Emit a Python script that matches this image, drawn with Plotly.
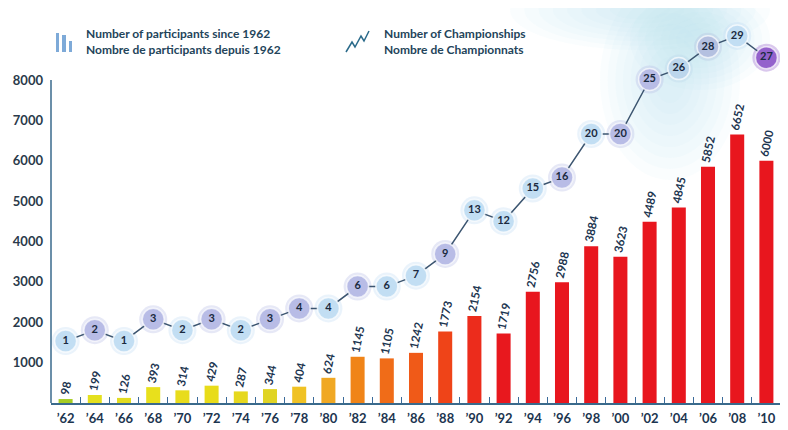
import plotly.graph_objects as go

years = ["’62", "’64", "’66", "’68", "’70", "’72", "’74", "’76", "’78", "’80", "’82", "’84", "’86",
         "’88", "’90", "’92", "’94", "’96", "’98", "’00", "’02", "’04", "’06", "’08", "’10"]
participants = [98, 199, 126, 393, 314, 429, 287, 344, 404, 624, 1145, 1105, 1242,
                1773, 2154, 1719, 2756, 2988, 3884, 3623, 4489, 4845, 5852, 6652, 6000]
championships = [1, 2, 1, 3, 2, 3, 2, 3, 4, 4, 6, 6, 7, 9, 13, 12, 15, 16, 20, 20, 25, 26, 28, 29, 27]
y_ticks = [1000, 2000, 3000, 4000, 5000, 6000, 7000, 8000]

bar_colors = ["#a6cc22", "#e4e01e", "#e2dc20", "#e8e01c", "#e8dc1c", "#e8dc1a", "#e6d81e", "#e0d424",
              "#f0c224", "#f0a824", "#f08418", "#f06c18", "#f05a18", "#ef4418", "#ec2c1c", "#e8181e",
              "#e8161e", "#e8161e", "#e8161e", "#e8161e", "#e8161e", "#e8161e", "#e8161e", "#e8161e", "#e8161e"]
LB, LV, PU = "#c2def3", "#b8bce6", "#9462cc"
bubble_colors = [LB, LV, LB, LV, LB, LV, LB, LV, LV, LB, LV, LB, LB, LV, LB, LB,
                 LB, LV, LB, LV, LV, "#bcd6ec", "#b4c0e0", LB, PU]

TXT = "#23445a"
fig = go.Figure()

fig.add_trace(go.Bar(
    x=years, y=participants, marker=dict(color=bar_colors, line=dict(width=0)),
    width=0.48, text=[str(v) for v in participants], textposition="outside",
    textangle=-78, constraintext="none", cliponaxis=False,
    textfont=dict(family="Lato", size=11.5, color="#1c3550", weight="bold"),
    showlegend=False, yaxis="y"))

# halo
fig.add_trace(go.Scatter(
    x=years, y=championships, mode="markers", yaxis="y2",
    marker=dict(size=28, color=bubble_colors, opacity=0.35, line=dict(width=0)),
    hoverinfo="skip", showlegend=False, cliponaxis=False))

fig.add_trace(go.Scatter(
    x=years, y=championships, mode="lines+markers+text", yaxis="y2",
    line=dict(color="#3c5570", width=1.5),
    marker=dict(size=22, color=bubble_colors, line=dict(width=1.5, color="rgba(255,255,255,0.7)")),
    text=[str(v) for v in championships], textposition="middle center",
    textfont=dict(family="Lato", size=11, color="#1a2a40", weight="bold"),
    showlegend=False, cliponaxis=False))


def px2paper(px, py):
    return (px - 51) / 730, (403 - py) / 383


shapes = []
# soft cloud background (many faint layers)
for k in range(8):
    f = 1 - k * 0.11
    for cx, cy, rx, ry in [(640, 10, 130, 40), (670, 80, 70, 100), (700, 40, 70, 50)]:
        x0, y1 = px2paper(cx - rx * f, cy - ry * f)
        x1, y0 = px2paper(cx + rx * f, cy + ry * f)
        shapes.append(dict(type="circle", xref="paper", yref="paper", layer="below",
                           x0=x0, x1=x1, y0=y0, y1=y1,
                           fillcolor="rgba(190,222,245,0.07)", line=dict(width=0)))
# y axis line
shapes.append(dict(type="line", xref="paper", yref="y", x0=0, x1=0, y0=0, y1=8000,
                   line=dict(color="#3a6a8c", width=1.5)))
# legend icons
for x0, x1, ytop in [(56, 59, 33), (62, 66, 35), (69, 72, 41)]:
    a0, b1 = px2paper(x0, ytop)
    a1, b0 = px2paper(x1, 52)
    shapes.append(dict(type="rect", xref="paper", yref="paper",
                       x0=a0, x1=a1, y0=b0, y1=b1,
                       fillcolor="#7eaad8", line=dict(width=0)))
zz = [(346, 52), (352, 42), (355, 47), (361, 36), (364, 41), (369, 31)]
path = "M " + " L ".join("{},{}".format(*px2paper(px, py)) for px, py in zz)
shapes.append(dict(type="path", xref="paper", yref="paper", path=path,
                   line=dict(color="#2a6a8a", width=1.5)))

annotations = []
for px, l1, l2 in [(84, "Number of participants since 1962", "Nombre de participants depuis 1962"),
                   (382, "Number of Championships", "Nombre de Championnats")]:
    ax, ay = px2paper(px, 42)
    annotations.append(dict(xref="paper", yref="paper", x=ax, y=ay,
                            text=l1 + "<br>" + l2, showarrow=False, xanchor="left", yanchor="middle",
                            align="left",
                            font=dict(family="Lato", size=12, color=TXT, weight="bold")))

fig.update_layout(
    width=780, height=422, margin=dict(l=43, r=7, t=12, b=27),
    paper_bgcolor="white", plot_bgcolor="white",
    xaxis=dict(type="category", range=[-0.5, 24.5], showgrid=False, zeroline=False,
               showline=True, linecolor="#3a6a8c", linewidth=1.5,
               ticks="inside", tickson="boundaries", ticklen=6, tickcolor="#3a6a9a",
               tickfont=dict(family="Lato", size=13, color="#1c3550", weight="bold"),
               ticklabelstandoff=3, automargin=False),
    yaxis=dict(range=[0, 9486], tickvals=y_ticks, showgrid=False, zeroline=False, showline=False,
               ticks="", tickfont=dict(family="Lato", size=13, color="#2a3a4a", weight="bold"),
               ticklabelstandoff=7, automargin=False),
    yaxis2=dict(overlaying="y", range=[-4.68, 30.46], visible=False),
    shapes=shapes, annotations=annotations, bargap=0.5,
)

fig.write_html("out.html")
